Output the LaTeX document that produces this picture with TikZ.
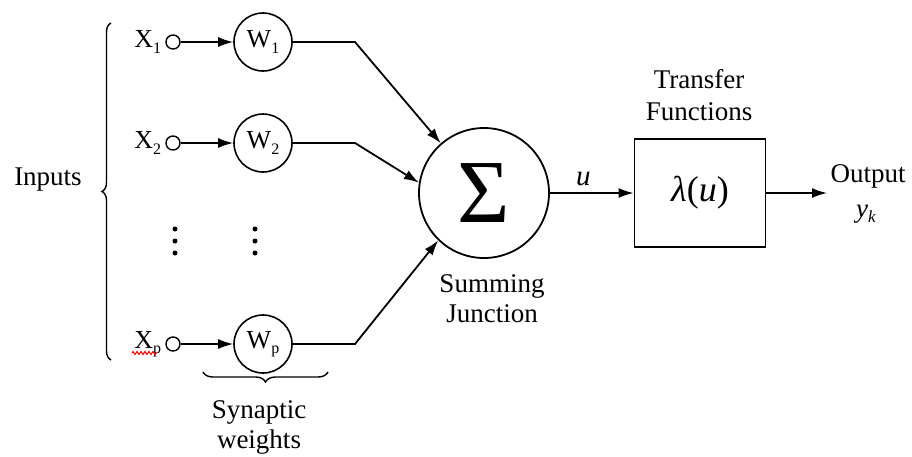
\documentclass[tikz,border=0pt]{standalone}
\usepackage{fontspec}
\setmainfont{Liberation Serif}
\usetikzlibrary{arrows.meta,decorations.pathreplacing,decorations.pathmorphing}
\newcommand{\subx}[1]{\raisebox{-0.2em}{\fontsize{16}{16}\selectfont #1}}
\begin{document}
\begin{tikzpicture}[x=1pt,y=-1pt,
  line width=1.8pt,
  arr/.style={-{Latex[length=15pt,width=10pt]}},
  lab/.style={font=\fontsize{27}{31}\selectfont, inner sep=0pt},
  var/.style={font=\fontsize{26}{26}\selectfont, inner sep=0pt},
  inpt/.style={circle, draw, line width=1.4pt, minimum size=14pt, inner sep=0pt},
  wcirc/.style={circle, draw, line width=1.6pt, minimum size=58pt, inner sep=0pt, font=\fontsize{26}{26}\selectfont},
  dotmark/.style={circle, fill, minimum size=5pt, inner sep=0pt}]
\useasboundingbox (0,0) rectangle (912,456);

% inputs, weights
\foreach \i/\y/\s in {1/42/1, 2/143/2, p/344/p}{
  \node[var, anchor=east] (x\i) at (162,\y) {X\subx{\s}};
  \node[inpt] (c\i) at (173,\y) {};
  \node[wcirc] (w\i) at (263,\y) {W\subx{\s}};
  \draw[arr] (c\i) -- (w\i);
  \coordinate (b\i) at (355,\y);
}
% spell-check underline under X_p
\draw[red, line width=1pt, decorate, decoration={zigzag, segment length=4pt, amplitude=1.5pt}]
  (132,353) -- (157,353);

% vertical ellipses
\foreach \x in {175,255}{
  \foreach \y in {229,241,253}{
    \node[dotmark] at (\x,\y) {};
  }
}

% summing junction
\node[circle, draw, minimum size=130pt, inner sep=0pt] (sum) at (484,193)
  {\fontsize{90}{90}\selectfont Σ};
\draw[arr] (w1) -- (b1) -- (sum.131);
\draw[arr] (w2) -- (b2) -- (sum.171);
\draw[arr] (wp) -- (bp) -- (sum.226);
\node[lab, anchor=base] (sumlab) at (492,292) {Summing};
\node[lab, anchor=base] (sumlab2) at (492,322) {Junction};

% transfer function
\node[draw, minimum width=131pt, minimum height=108pt, inner sep=0pt] (tf) at (700,193)
  {\fontsize{36}{36}\selectfont\textit{λ}(\textit{u})};
\draw[arr] (sum) -- node[lab, above=6pt, pos=0.4] (ulab) {\fontsize{29}{29}\selectfont\textit{u}} (tf);
\node[lab, anchor=base] (tflab) at (699,88) {Transfer};
\node[lab, anchor=base] (tflab2) at (699,120) {Functions};

% output
\coordinate (out) at (827,193);
\draw[arr] (tf) -- (out);
\node[lab, anchor=base] (outlab) at (868,182) {Output};
\node[lab, anchor=base] (ylab) at (866,217) {\textit{y}\raisebox{-0.2em}{\fontsize{17}{17}\selectfont\textit{k}}};

% braces
\draw[line width=1.4pt, decorate, decoration={brace, amplitude=9pt}] (111,360) -- (111,23);
\node[lab, anchor=base] (inlab) at (48,185) {Inputs};
\draw[line width=1.4pt, decorate, decoration={brace, amplitude=10pt}] (328,372) -- (203,372);
\node[lab, anchor=base] (synlab) at (259,418) {Synaptic};
\node[lab, anchor=base] (synlab2) at (259,448) {weights};
\end{tikzpicture}
\end{document}
